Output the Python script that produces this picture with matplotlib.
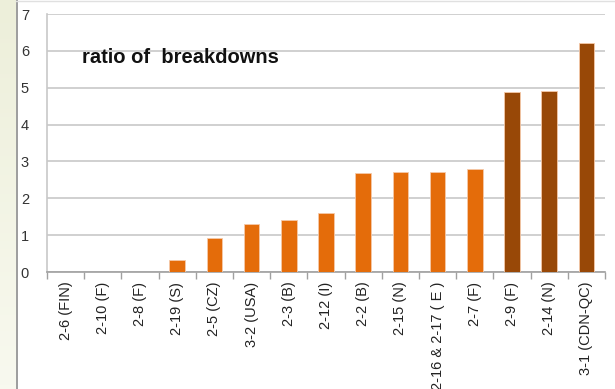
import numpy as np
import matplotlib.pyplot as plt
from matplotlib.colors import LinearSegmentedColormap

plt.rcParams['font.family'] = ['Liberation Sans', 'DejaVu Sans']

# test sites, ordered by ratio
sites = ["2-6 (FIN)", "2-10 (F)", "2-8 (F)", "2-19 (S)", "2-5 (CZ)", "3-2 (USA)",
         "2-3 (B)", "2-12 (I)", "2-2 (B)", "2-15 (N)", "2-16 & 2-17 ( E )",
         "2-7 (F)", "2-9 (F)", "2-14 (N)", "3-1 (CDN-QC)"]
ratios = [0, 0, 0, 0.33, 0.93, 1.3, 1.42, 1.6, 2.68, 2.7, 2.72, 2.8, 4.88, 4.9, 6.2]
high = [False] * 12 + [True] * 3

ORANGE = "#E46C0A"
BROWN = "#984807"
GRID = "#C8C8C8"

fig = plt.figure(figsize=(6.15, 3.89), dpi=100)
fig.patch.set_facecolor("white")

# pale strip down the left edge with a gradient
strip = fig.add_axes([0, 0, 16 / 615, 1])
cmap = LinearSegmentedColormap.from_list("strip", ["#EDEFDA", "#F8F9EF"])
strip.imshow(np.linspace(0, 1, 100).reshape(-1, 1), aspect="auto", cmap=cmap,
             extent=[0, 1, 0, 1])
strip.axis("off")
fig.add_artist(plt.Line2D([16.5 / 615, 16.5 / 615], [0, 1], color="#8C8C8C", lw=1.2))
fig.add_artist(plt.Line2D([16 / 615, 1], [0.998, 0.998], color="#E0E0E0", lw=1.0))

ax = fig.add_axes([47 / 615, 1 - 272 / 389, 558 / 615, 258 / 389])
x = np.arange(len(sites))
colors = [BROWN if h else ORANGE for h in high]
ax.bar(x, ratios, width=0.42, color=colors, edgecolor="#F5C9A8", linewidth=0.6, zorder=3)

ax.set_xlim(-0.5, len(sites) - 0.5)
ax.set_ylim(0, 7)
ax.set_yticks(range(0, 8))
ax.yaxis.grid(True, color=GRID, lw=1.2, zorder=0)
ax.tick_params(axis="y", length=0, pad=13, labelsize=10.5, labelcolor="#333333")

ax.set_xticks(x)
ax.set_xticklabels(sites, rotation=90, fontsize=10.5, color="#222222")
ax.tick_params(axis="x", length=0, pad=7)
ax.set_xticks(np.arange(-0.5, len(sites)), minor=True)
ax.tick_params(axis="x", which="minor", length=5, color="#A0A0A0", width=1)

for side in ["top", "right"]:
    ax.spines[side].set_visible(False)
ax.spines["left"].set_color(GRID)
ax.spines["left"].set_linewidth(1.2)
ax.spines["bottom"].set_color("#A0A0A0")
ax.spines["bottom"].set_linewidth(1.2)

ax.text(0.063, 0.81, "ratio of  breakdowns", transform=ax.transAxes,
        fontsize=14.5, fontweight="bold", color="#111111")

fig.savefig("out.png", dpi=100)
